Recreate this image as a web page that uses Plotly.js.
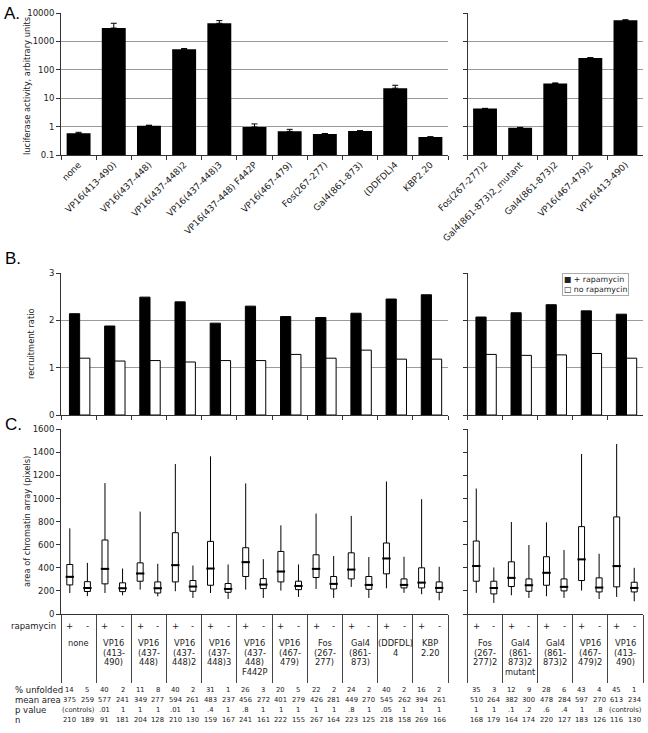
<!DOCTYPE html>
<html><head><meta charset="utf-8">
<script src="https://cdn.plot.ly/plotly-3.0.1.min.js"></script>
<style>html,body{margin:0;padding:0;background:#fff}</style>
</head><body>
<div id="chart" style="width:648px;height:733px"></div>
<script>
// ---------------- DATA ----------------
const catsLeft = ["none","VP16(413-490)","VP16(437-448)","VP16(437-448)2","VP16(437-448)3","VP16(437-448) F442P","VP16(467-479)","Fos(267-277)","Gal4(861-873)","(DDFDL)4","KBP2.20"];
const catsRight = ["Fos(267-277)2","Gal4(861-873)2_mutant","Gal4(861-873)2","VP16(467-479)2","VP16(413-490)"];

// A. luciferase activity (arbitrary units) and upper error
const lucLeft = [0.58, 2950, 1.08, 530, 4350, 0.97, 0.68, 0.55, 0.70, 22.5, 0.43];
const lucErrLeft = [0.05, 1400, 0.04, 30, 1050, 0.27, 0.12, 0.02, 0.02, 6, 0.01];
const lucRight = [4.3, 0.92, 33, 262, 5500];
const lucErrRight = [0.1, 0.02, 1.5, 5, 300];

// B. recruitment ratio
const recPlusLeft = [2.14, 1.88, 2.49, 2.39, 1.94, 2.30, 2.08, 2.06, 2.15, 2.45, 2.54];
const recMinusLeft = [1.20, 1.14, 1.15, 1.12, 1.15, 1.15, 1.28, 1.20, 1.37, 1.18, 1.18];
const recPlusRight = [2.07, 2.16, 2.33, 2.20, 2.13];
const recMinusRight = [1.28, 1.26, 1.27, 1.30, 1.20];

// C. area of chromatin array: [lower whisker, q1, median, q3, upper whisker]
const boxPlusLeft = [
  [182,252,322,429,742],[182,261,391,641,1134],[211,284,351,443,887],[197,278,423,704,1299],
  [182,249,394,629,1366],[211,325,449,574,1131],[203,278,368,542,768],[217,316,391,513,870],
  [235,304,385,530,850],[223,348,481,615,1148],[171,226,272,400,995]];
const boxMinusLeft = [
  [155,195,225,280,443],[162,194,223,270,394],[153,182,223,278,435],[139,197,238,290,420],
  [130,188,217,264,429],[139,220,255,307,475],[148,211,243,284,429],[139,217,261,325,502],
  [139,214,252,325,493],[183,226,252,304,496],[119,188,226,278,409]];
const boxPlusRight = [
  [183,284,415,632,1087],[162,238,313,452,797],[154,249,357,496,794],[203,290,473,757,1386],[148,235,415,841,1473]];
const boxMinusRight = [
  [96,174,226,284,403],[139,197,249,304,597],[139,200,235,304,554],[130,191,229,313,522],[110,191,226,275,400]];

// Table
const tableLabelsLeft = [["none"],["VP16","(413-","490)"],["VP16","(437-","448)"],["VP16","(437-","448)2"],["VP16","(437-","448)3"],["VP16","(437-","448)","F442P"],["VP16","(467-","479)"],["Fos","(267-","277)"],["Gal4","(861-","873)"],["(DDFDL)","4"],["KBP","2.20"]];
const tableLabelsRight = [["Fos","(267-","277)2"],["Gal4","(861-","873)2","mutant"],["Gal4","(861-","873)2"],["VP16","(467-","479)2"],["VP16","(413-","490)"]];
const rapaSigns = ["+","-"];
const rowNames = ["% unfolded","mean area","p value","n"];
const unfoldedLeft = [14,5,40,2,11,8,40,2,31,1,26,3,20,5,22,2,24,2,40,2,16,2];
const meanAreaLeft = [375,259,577,241,349,277,594,261,483,237,456,272,401,279,426,281,449,270,545,262,394,261];
const pValueLeft = ["(controls)","",".01","1","1","1",".01","1",".4","1",".8","1","1","1","1","1",".8","1",".05","1","1","1"];
const nLeft = [210,189,91,181,204,128,210,130,159,167,241,161,222,155,267,164,223,125,218,158,269,166];
const unfoldedRight = [35,3,12,9,28,6,43,4,45,1];
const meanAreaRight = [510,264,382,300,478,284,597,270,613,234];
const pValueRight = ["1","1",".1",".2",".6",".4","1",".8","(controls)",""];
const nRight = [168,179,164,174,220,127,183,126,116,130];

// ---------------- LAYOUT HELPERS ----------------
const W = 648, H = 733;
const px = v => v / W;
const py = v => 1 - v / H;
const FONT = "DejaVu Sans, Verdana, sans-serif";
const TXT = "#222";
const LEFTDOM = [px(61), px(448)];
const RIGHTDOM = [px(467.5), px(643)];
const DOM_A = [py(155), py(13)];
const DOM_B = [py(415), py(273)];
const DOM_C = [py(614), py(429.3)];

const traces = [];

// A bars
function lucTrace(cats, vals, errs, xa, ya) {
  return {type:"bar", x:cats, y:vals, xaxis:xa, yaxis:ya, width:0.68,
    marker:{color:"#000", line:{color:"#000", width:0}},
    error_y:{type:"data", symmetric:false, array:errs, arrayminus:errs.map(()=>0), color:"#000", thickness:1, width:3},
    showlegend:false, hoverinfo:"x+y"};
}
traces.push(lucTrace(catsLeft, lucLeft, lucErrLeft, "x", "y"));
traces.push(lucTrace(catsRight, lucRight, lucErrRight, "x2", "y2"));

// B bars
function recTraces(cats, plus, minus, xa, ya) {
  return [
    {type:"bar", name:"+ rapamycin", x:cats, y:plus, xaxis:xa, yaxis:ya, width:0.29, offset:-0.26,
      marker:{color:"#000", line:{color:"#000", width:1}}, showlegend:false},
    {type:"bar", name:"no rapamycin", x:cats, y:minus, xaxis:xa, yaxis:ya, width:0.29, offset:0.03,
      marker:{color:"#fff", line:{color:"#000", width:1}}, showlegend:false}
  ];
}
traces.push(...recTraces(catsLeft, recPlusLeft, recMinusLeft, "x3", "y3"));
traces.push(...recTraces(catsRight, recPlusRight, recMinusRight, "x4", "y4"));

// C boxes
function boxTrace(stats, shift, xa, ya) {
  const xs = stats.map((s,i)=>i+shift);
  return [{type:"box", x:xs, xaxis:xa, yaxis:ya,
    lowerfence:stats.map(s=>s[0]), q1:stats.map(s=>s[1]), median:stats.map(s=>s[2]),
    q3:stats.map(s=>s[3]), upperfence:stats.map(s=>s[4]),
    width:0.17, whiskerwidth:0, boxpoints:false, fillcolor:"#fff",
    line:{color:"#000", width:1}, showlegend:false, hoverinfo:"y"},
   {type:"scatter", mode:"markers", x:xs, y:stats.map(s=>s[2]), xaxis:xa, yaxis:ya,
    marker:{symbol:"line-ew", size:6, line:{color:"#000", width:2}}, showlegend:false, hoverinfo:"skip"}];
}
traces.push(...boxTrace(boxPlusLeft, -0.25, "x5", "y5"));
traces.push(...boxTrace(boxMinusLeft, 0.25, "x5", "y5"));
traces.push(...boxTrace(boxPlusRight, -0.25, "x6", "y6"));
traces.push(...boxTrace(boxMinusRight, 0.25, "x6", "y6"));

// ---------------- AXES ----------------
const tickFont = {family:FONT, size:8.5, color:TXT};
function catX(dom, anchor, showLabels) {
  return {domain:dom, anchor:anchor, type:"category", tickmode:"linear", tick0:0, dtick:1,
    tickson:"boundaries", ticks:"outside", ticklen:4, tickcolor:"#333",
    showline:true, linecolor:"#333", linewidth:1, showgrid:false, zeroline:false,
    showticklabels:showLabels, tickangle:-45, tickfont:{family:FONT, size:9, color:TXT},
    automargin:false, fixedrange:true};
}
function yAx(dom, anchor, extra) {
  return Object.assign({domain:dom, anchor:anchor, ticks:"outside", ticklen:4, tickcolor:"#333",
    showline:true, linecolor:"#333", linewidth:1, zeroline:false, tickfont:tickFont,
    gridcolor:"#9a9a9a", gridwidth:1, automargin:false, fixedrange:true}, extra);
}
const logExtra = {type:"log", range:[-1,4], tickvals:[0.1,1,10,100,1000,10000], ticktext:["0.1","1","10","100","1000","10000"], showgrid:true};
const recExtra = {range:[0,3], tickvals:[0,1,2,3], showgrid:true};
const areaExtra = {range:[0,1600], tickmode:"linear", tick0:0, dtick:200, showgrid:false};

function tableX(dom, anchor, n) {
  const b = []; for (let i=0;i<=n;i++) b.push(i-0.5);
  return {domain:dom, anchor:anchor, range:[-0.5, n-0.5], tickmode:"array", tickvals:b,
    ticks:"outside", ticklen:68, tickcolor:"#444", tickwidth:1, showticklabels:false,
    showline:true, linecolor:"#333", linewidth:1, showgrid:false, zeroline:false, fixedrange:true};
}

// ---------------- ANNOTATIONS ----------------
const ann = [];
const letter = (t,x,y)=>ann.push({text:t, xref:"paper", yref:"paper", x:px(x), y:py(y), xanchor:"left", yanchor:"middle", showarrow:false, font:{family:"Liberation Sans, Arial, sans-serif", size:17, color:"#000"}});
letter("A.", 2, 13);
letter("B.", 3, 259);
letter("C.", 3, 424);
const ytitle = (t,x,y)=>ann.push({text:t, xref:"paper", yref:"paper", x:px(x), y:py(y), xanchor:"center", yanchor:"middle", textangle:-90, showarrow:false, font:{family:FONT, size:8.3, color:TXT}});
ytitle("luciferase activity, arbitrary units", 27, 86);
ytitle("recruitment ratio", 31, 344);
ytitle("area of chromatin array (pixels)", 27, 522);

// legend
ann.push({text:"\u25A0 + rapamycin<br>\u25A1 no rapamycin", xref:"paper", yref:"paper", x:px(562), y:py(273), xanchor:"left", yanchor:"top", align:"left", showarrow:false,
  bordercolor:"#aaa", borderwidth:1, borderpad:1, bgcolor:"#fff", font:{family:FONT, size:7.8, color:TXT}});

// table
const smallTxt = (t, xref, x, y, size) => ann.push({text:String(t), xref:xref, yref:"paper", x:x, y:py(y), xanchor:"center", yanchor:"middle", showarrow:false, font:{family:FONT, size:size, color:TXT}});
ann.push({text:"rapamycin", xref:"paper", yref:"paper", x:px(9), y:py(626), xanchor:"left", yanchor:"middle", showarrow:false, font:{family:FONT, size:8.5, color:TXT}});
const rowY = [690, 700, 709.5, 720];
rowNames.forEach((r,k)=>ann.push({text:r, xref:"paper", yref:"paper", x:px(13), y:py(rowY[k]), xanchor:"left", yanchor:"middle", showarrow:false, font:{family:FONT, size:8.5, color:TXT}}));

function tableSection(labels, unf, mean, pv, nn, xref) {
  labels.forEach((lines, i) => {
    rapaSigns.forEach((s, j) => smallTxt(s, xref, i + (j===0?-0.25:0.25), 626, 8.5));
    lines.forEach((ln, k) => smallTxt(ln, xref, i, 643 + k*9.5, 8.3));
  });
  [unf, mean, pv, nn].forEach((arr, k) => {
    arr.forEach((v, c) => {
      if (v === "") return;
      const i = Math.floor(c/2);
      let x = i + (c%2===0 ? -0.25 : 0.25);
      if (v === "(controls)") x = i;
      smallTxt(v, xref, x, rowY[k], 6.8);
    });
  });
}
tableSection(tableLabelsLeft, unfoldedLeft, meanAreaLeft, pValueLeft, nLeft, "x5");
tableSection(tableLabelsRight, unfoldedRight, meanAreaRight, pValueRight, nRight, "x6");

const layout = {
  width:W, height:H, margin:{l:0,r:0,t:0,b:0}, paper_bgcolor:"#fff", plot_bgcolor:"rgba(0,0,0,0)",
  barmode:"overlay", showlegend:false, font:{family:FONT, color:TXT},
  xaxis: catX(LEFTDOM, "y", true),
  yaxis: yAx(DOM_A, "x", logExtra),
  xaxis2: catX(RIGHTDOM, "y2", true),
  yaxis2: yAx(DOM_A, "x2", Object.assign({}, logExtra, {showticklabels:false})),
  xaxis3: catX(LEFTDOM, "y3", false),
  yaxis3: yAx(DOM_B, "x3", recExtra),
  xaxis4: catX(RIGHTDOM, "y4", false),
  yaxis4: yAx(DOM_B, "x4", Object.assign({}, recExtra, {showticklabels:false})),
  xaxis5: tableX(LEFTDOM, "y5", catsLeft.length),
  yaxis5: yAx(DOM_C, "x5", areaExtra),
  xaxis6: tableX(RIGHTDOM, "y6", catsRight.length),
  yaxis6: yAx(DOM_C, "x6", Object.assign({}, areaExtra, {showticklabels:false})),
  annotations: ann
};
Plotly.newPlot("chart", traces, layout, {staticPlot:true, displayModeBar:false});
</script>
</body></html>
